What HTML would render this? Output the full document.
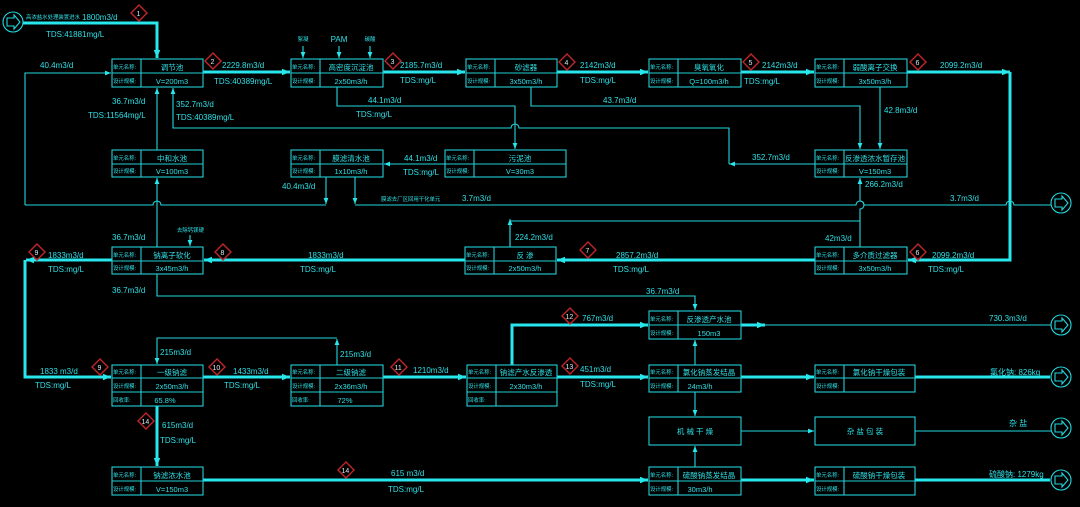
<!DOCTYPE html>
<html><head><meta charset="utf-8"><style>
html,body{margin:0;padding:0;background:#000;}
svg{display:block;}
text{font-family:"Liberation Sans","Noto Sans CJK SC",sans-serif;fill:#2ee0e6;font-size:8px;}
text.s,.s text{font-size:5.4px;}
.n text{font-size:7.5px;text-anchor:middle;}
.t{stroke:#22d8de;stroke-width:1.1;fill:none;}
.k{stroke:#27e6ec;stroke-width:3;fill:none;}
.b{stroke:#22d0d6;stroke-width:1.1;fill:none;}
.d{stroke:#c0262a;stroke-width:1.4;fill:none;}
.dn{fill:#d8e8ea;font-size:7px;}
</style></head><body>
<svg width="1080" height="507" viewBox="0 0 1080 507" xmlns="http://www.w3.org/2000/svg">
<defs>
<marker id="a" viewBox="0 0 10 10" refX="10" refY="5" markerWidth="8" markerHeight="6" orient="auto" markerUnits="userSpaceOnUse"><path d="M0,1 L10,5 L0,9 z" fill="#27e6ec"/></marker>
<marker id="A" viewBox="0 0 10 10" refX="10" refY="5" markerWidth="12" markerHeight="8" orient="auto" markerUnits="userSpaceOnUse"><path d="M0,1 L10,5 L0,9 z" fill="#27e6ec"/></marker>
<g id="io"><circle r="10" class="t" stroke-width="1.5"/><path d="M-6,-4 L1,-4 L1,-7 L7,0 L1,7 L1,4 L-6,4 z" class="t"/></g>
</defs>

<use href="#io" x="13" y="22"/>
<use href="#io" x="1061" y="203"/>
<use href="#io" x="1061" y="325"/>
<use href="#io" x="1061" y="377"/>
<use href="#io" x="1061" y="428"/>
<use href="#io" x="1061" y="480"/>

<path class="k" d="M23,23 H157 V58" marker-end="url(#A)"/>
<path class="k" d="M203,72 H290" marker-end="url(#A)"/>
<path class="k" d="M383,72 H465" marker-end="url(#A)"/>
<path class="k" d="M557,72 H648" marker-end="url(#A)"/>
<path class="k" d="M741,72 H814" marker-end="url(#A)"/>
<path class="k" d="M907,72 H1010" marker-end="url(#A)"/>
<path class="k" d="M1010,72 V260 H908" marker-end="url(#A)"/>
<path class="k" d="M815,260 H557" marker-end="url(#A)"/>
<path class="k" d="M465,260 H204" marker-end="url(#A)"/>
<path class="k" d="M112,260 H26" marker-end="url(#A)"/>
<path class="k" d="M25,260 V377 H111" marker-end="url(#A)"/>
<path class="k" d="M203,377 H290" marker-end="url(#A)"/>
<path class="k" d="M383,377 H466" marker-end="url(#A)"/>
<path class="k" d="M557,377 H648" marker-end="url(#A)"/>
<path class="k" d="M741,377 H814" marker-end="url(#A)"/>
<path class="k" d="M915,377 H1050"/>
<path class="k" d="M512,365 V325 H648" marker-end="url(#A)"/>
<path class="k" d="M741,325 H765" marker-end="url(#A)"/>
<path class="t" d="M765,325 H1051"/>
<path class="k" d="M157,406 V466" marker-end="url(#A)"/>
<path class="k" d="M203,480 H648" marker-end="url(#A)"/>
<path class="k" d="M741,480 H814" marker-end="url(#A)"/>
<path class="k" d="M915,480 H1050"/>

<path class="t" d="M25,205 V73 H111" marker-end="url(#a)"/>
<path class="t" d="M326,177 V204" marker-end="url(#a)"/>
<path class="t" d="M326,205 H161 A4,4 0 0 0 153,205 H25"/>
<path class="t" d="M355,177 V204" marker-end="url(#a)"/>
<path class="t" d="M355,205 H856 A4,4 0 0 1 864,205 H1006 A4,4 0 0 1 1014,205 H1051"/>
<path class="t" d="M157,150 V88" marker-end="url(#a)"/>
<path class="t" d="M157,247 V178" marker-end="url(#a)"/>
<path class="t" d="M729,164 V128 H519 A4,4 0 0 0 511,128 H173 V88" marker-end="url(#a)"/>
<path class="t" d="M815,164 H729" marker-end="url(#a)"/>
<path class="t" d="M337,87 V106 H515 V149" marker-end="url(#a)"/>
<path class="t" d="M531,87 V106 H860 V149" marker-end="url(#a)"/>
<path class="t" d="M880,87 V149" marker-end="url(#a)"/>
<path class="t" d="M445,164 H384" marker-end="url(#a)"/>
<path class="t" d="M860,247 V209 A4,4 0 0 0 860,201 V178" marker-end="url(#a)"/>
<path class="t" d="M510,247 V221 H860"/>
<path class="t" d="M510,247 V219" marker-end="url(#a)"/>
<path class="t" d="M157,274 V296 H695 V310" marker-end="url(#a)"/>
<path class="t" d="M337,365 V339" marker-end="url(#a)"/>
<path class="t" d="M337,338 H157 V364" marker-end="url(#a)"/>
<path class="t" d="M695,365 V340" marker-end="url(#a)"/>
<path class="t" d="M695,392 V416" marker-end="url(#a)"/>
<path class="t" d="M695,467 V446" marker-end="url(#a)"/>
<path class="t" d="M741,431 H814" marker-end="url(#a)"/>
<path class="t" d="M915,431 H1051"/>
<path class="t" d="M303,46 V58" marker-end="url(#a)"/>
<path class="t" d="M339,46 V58" marker-end="url(#a)"/>
<path class="t" d="M370,46 V58" marker-end="url(#a)"/>
<path class="t" d="M190,235 V246" marker-end="url(#a)"/>

<g class="b">
<rect x="112" y="59" width="91" height="28"/><path d="M141,59V87M112,73H203"/>
<rect x="291" y="59" width="92" height="28"/><path d="M320,59V87M291,73H383"/>
<rect x="466" y="59" width="91" height="28"/><path d="M495,59V87M466,73H557"/>
<rect x="649" y="59" width="92" height="28"/><path d="M678,59V87M649,73H741"/>
<rect x="815" y="59" width="92" height="28"/><path d="M844,59V87M815,73H907"/>
<rect x="112" y="150" width="91" height="27"/><path d="M141,150V177M112,164H203"/>
<rect x="291" y="150" width="92" height="27"/><path d="M320,150V177M291,164H383"/>
<rect x="445" y="150" width="121" height="27"/><path d="M474,150V177M445,164H566"/>
<rect x="815" y="150" width="92" height="27"/><path d="M844,150V177M815,164H907"/>
<rect x="112" y="247" width="91" height="27"/><path d="M141,247V274M112,261H203"/>
<rect x="465" y="247" width="91" height="27"/><path d="M494,247V274M465,261H556"/>
<rect x="815" y="247" width="92" height="27"/><path d="M844,247V274M815,261H907"/>
<rect x="649" y="311" width="92" height="28"/><path d="M678,311V339M649,325H741"/>
<rect x="112" y="365" width="91" height="41"/><path d="M141,365V406M112,378H203M112,392H203"/>
<rect x="291" y="365" width="92" height="41"/><path d="M320,365V406M291,378H383M291,392H383"/>
<rect x="467" y="365" width="90" height="41"/><path d="M496,365V406M467,378H557M467,392H557"/>
<rect x="649" y="365" width="92" height="27"/><path d="M678,365V392M649,378H741"/>
<rect x="815" y="365" width="100" height="27"/><path d="M844,365V392M815,378H915"/>
<rect x="649" y="417" width="92" height="28"/>
<rect x="815" y="417" width="100" height="28"/>
<rect x="112" y="467" width="91" height="28"/><path d="M141,467V495M112,481H203"/>
<rect x="649" y="467" width="92" height="28"/><path d="M678,467V495M649,481H741"/>
<rect x="815" y="467" width="100" height="28"/><path d="M844,467V495M815,481H915"/>
</g>

<g class="s">
<text x="113" y="69">单元名称:</text><text x="113" y="83">设计规模:</text>
<text x="292" y="69">单元名称:</text><text x="292" y="83">设计规模:</text>
<text x="467" y="69">单元名称:</text><text x="467" y="83">设计规模:</text>
<text x="650" y="69">单元名称:</text><text x="650" y="83">设计规模:</text>
<text x="816" y="69">单元名称:</text><text x="816" y="83">设计规模:</text>
<text x="113" y="160">单元名称:</text><text x="113" y="173">设计规模:</text>
<text x="292" y="160">单元名称:</text><text x="292" y="173">设计规模:</text>
<text x="446" y="160">单元名称:</text><text x="446" y="173">设计规模:</text>
<text x="816" y="160">单元名称:</text><text x="816" y="173">设计规模:</text>
<text x="113" y="257">单元名称:</text><text x="113" y="270">设计规模:</text>
<text x="466" y="257">单元名称:</text><text x="466" y="270">设计规模:</text>
<text x="816" y="257">单元名称:</text><text x="816" y="270">设计规模:</text>
<text x="650" y="321">单元名称:</text><text x="650" y="335">设计规模:</text>
<text x="113" y="374">单元名称:</text><text x="113" y="388">设计规模:</text><text x="113" y="402">回收率:</text>
<text x="292" y="374">单元名称:</text><text x="292" y="388">设计规模:</text><text x="292" y="402">回收率:</text>
<text x="468" y="374">单元名称:</text><text x="468" y="388">设计规模:</text><text x="468" y="402">回收率:</text>
<text x="650" y="374">单元名称:</text><text x="650" y="388">设计规模:</text>
<text x="816" y="374">单元名称:</text><text x="816" y="388">设计规模:</text>
<text x="113" y="477">单元名称:</text><text x="113" y="491">设计规模:</text>
<text x="650" y="477">单元名称:</text><text x="650" y="491">设计规模:</text>
<text x="816" y="477">单元名称:</text><text x="816" y="491">设计规模:</text>
</g>
<g class="n">
<text x="172" y="70">调节池</text><text x="172" y="84">V=200m3</text>
<text x="351" y="70">高密度沉淀池</text><text x="351" y="84">2x50m3/h</text>
<text x="526" y="70">砂滤器</text><text x="526" y="84">3x50m3/h</text>
<text x="709" y="70">臭氧氧化</text><text x="709" y="84">Q=100m3/h</text>
<text x="875" y="70">弱酸离子交换</text><text x="875" y="84">3x50m3/h</text>
<text x="172" y="161">中和水池</text><text x="172" y="174">V=100m3</text>
<text x="351" y="161">膜滤清水池</text><text x="351" y="174">1x10m3/h</text>
<text x="520" y="161">污泥池</text><text x="520" y="174">V=30m3</text>
<text x="875" y="161">反渗透浓水暂存池</text><text x="875" y="174">V=150m3</text>
<text x="172" y="258">钠离子软化</text><text x="172" y="271">3x45m3/h</text>
<text x="525" y="258">反 渗</text><text x="525" y="271">2x50m3/h</text>
<text x="875" y="258">多介质过滤器</text><text x="875" y="271">3x50m3/h</text>
<text x="709" y="322">反渗透产水池</text><text x="709" y="336">150m3</text>
<text x="172" y="375">一级钠滤</text><text x="172" y="389">2x50m3/h</text><text x="165" y="403">65.8%</text>
<text x="351" y="375">二级钠滤</text><text x="351" y="389">2x36m3/h</text><text x="345" y="403">72%</text>
<text x="526" y="375">钠滤产水反渗透</text><text x="526" y="389">2x30m3/h</text>
<text x="709" y="375">氯化钠蒸发结晶</text><text x="700" y="389">24m3/h</text>
<text x="879" y="375">氯化钠干燥包装</text>
<text x="695" y="434">机 械 干 燥</text>
<text x="865" y="434">杂 盐 包 装</text>
<text x="172" y="478">钠滤浓水池</text><text x="172" y="492">V=150m3</text>
<text x="709" y="478">硫酸钠蒸发结晶</text><text x="700" y="492">30m3/h</text>
<text x="879" y="478">硫酸钠干燥包装</text>
</g>

<text class="s" x="303" y="41" text-anchor="middle">絮凝</text>
<text x="339" y="42" text-anchor="middle">PAM</text>
<text class="s" x="370" y="41" text-anchor="middle">碳酸</text>

<text class="s" x="26" y="19">高浓盐水处理装置进水</text><text x="82" y="20">1800m3/d</text>
<text x="46" y="37">TDS:41881mg/L</text>
<text x="40" y="68">40.4m3/d</text>
<text x="222" y="68">2229.8m3/d</text><text x="214" y="84">TDS:40389mg/L</text>
<text x="400" y="68">2185.7m3/d</text><text x="400" y="83">TDS:mg/L</text>
<text x="580" y="68">2142m3/d</text><text x="580" y="83">TDS:mg/L</text>
<text x="762" y="68">2142m3/d</text><text x="744" y="84">TDS:mg/L</text>
<text x="940" y="68">2099.2m3/d</text>
<text x="112" y="104">36.7m3/d</text><text x="88" y="118">TDS:11564mg/L</text>
<text x="176" y="107">352.7m3/d</text><text x="176" y="120">TDS:40389mg/L</text>
<text x="368" y="103">44.1m3/d</text><text x="356" y="117">TDS:mg/L</text>
<text x="603" y="103">43.7m3/d</text>
<text x="884" y="113">42.8m3/d</text>
<text x="404" y="161">44.1m3/d</text><text x="403" y="175">TDS:mg/L</text>
<text x="752" y="160">352.7m3/d</text>
<text x="865" y="187">266.2m3/d</text>
<text x="282" y="189">40.4m3/d</text>
<text class="s" x="381" y="201">膜滤去厂区回用干化单元</text><text x="462" y="201">3.7m3/d</text>
<text x="950" y="201">3.7m3/d</text>
<text x="825" y="241">42m3/d</text>
<text x="515" y="240">224.2m3/d</text>
<text x="616" y="258">2857.2m3/d</text><text x="613" y="272">TDS:mg/L</text>
<text x="932" y="258">2099.2m3/d</text><text x="928" y="272">TDS:mg/L</text>
<text x="308" y="258">1833m3/d</text><text x="300" y="272">TDS:mg/L</text>
<text x="48" y="258">1833m3/d</text><text x="48" y="272">TDS:mg/L</text>
<text class="s" x="177" y="232">去除钙镁硬</text>
<text x="112" y="240">36.7m3/d</text>
<text x="112" y="293">36.7m3/d</text>
<text x="646" y="294">36.7m3/d</text>
<text x="160" y="355">215m3/d</text><text x="340" y="357">215m3/d</text>
<text x="40" y="374">1833 m3/d</text><text x="35" y="388">TDS:mg/L</text>
<text x="233" y="374">1433m3/d</text><text x="224" y="388">TDS:mg/L</text>
<text x="413" y="373">1210m3/d</text>
<text x="582" y="321">767m3/d</text>
<text x="580" y="372">451m3/d</text><text x="580" y="387">TDS:mg/L</text>
<text x="989" y="321">730.3m3/d</text>
<text x="990" y="375">氯化钠: 826kg</text>
<text x="1009" y="426">杂 盐</text>
<text x="989" y="477">硫酸钠: 1279kg</text>
<text x="162" y="428">615m3/d</text><text x="160" y="443">TDS:mg/L</text>
<text x="391" y="476">615 m3/d</text><text x="388" y="492">TDS:mg/L</text>

<g>
<path class="d" d="M139,5 l8,8 l-8,8 l-8,-8z"/><text class="dn" x="136.5" y="16">1</text>
<path class="d" d="M213,53 l8,8 l-8,8 l-8,-8z"/><text class="dn" x="210.5" y="64">2</text>
<path class="d" d="M393,53 l8,8 l-8,8 l-8,-8z"/><text class="dn" x="390.5" y="64">3</text>
<path class="d" d="M567,54 l8,8 l-8,8 l-8,-8z"/><text class="dn" x="564.5" y="65">4</text>
<path class="d" d="M751,54 l8,8 l-8,8 l-8,-8z"/><text class="dn" x="748.5" y="65">5</text>
<path class="d" d="M918,54 l8,8 l-8,8 l-8,-8z"/><text class="dn" x="915.5" y="65">6</text>
<path class="d" d="M918,244 l8,8 l-8,8 l-8,-8z"/><text class="dn" x="915.5" y="255">6</text>
<path class="d" d="M588,242 l8,8 l-8,8 l-8,-8z"/><text class="dn" x="585.5" y="253">7</text>
<path class="d" d="M223,244 l8,8 l-8,8 l-8,-8z"/><text class="dn" x="220.5" y="255">8</text>
<path class="d" d="M37,244 l8,8 l-8,8 l-8,-8z"/><text class="dn" x="34.5" y="255">9</text>
<path class="d" d="M100,359 l8,8 l-8,8 l-8,-8z"/><text class="dn" x="97.5" y="370">9</text>
<path class="d" d="M217,359 l8,8 l-8,8 l-8,-8z"/><text class="dn" x="212.5" y="370">10</text>
<path class="d" d="M399,359 l8,8 l-8,8 l-8,-8z"/><text class="dn" x="394.5" y="370">11</text>
<path class="d" d="M570,308 l8,8 l-8,8 l-8,-8z"/><text class="dn" x="565.5" y="319">12</text>
<path class="d" d="M570,358 l8,8 l-8,8 l-8,-8z"/><text class="dn" x="565.5" y="369">13</text>
<path class="d" d="M146,413 l8,8 l-8,8 l-8,-8z"/><text class="dn" x="141.5" y="424">14</text>
<path class="d" d="M346,462 l8,8 l-8,8 l-8,-8z"/><text class="dn" x="341.5" y="473">14</text>
</g>
</svg>
</body></html>
